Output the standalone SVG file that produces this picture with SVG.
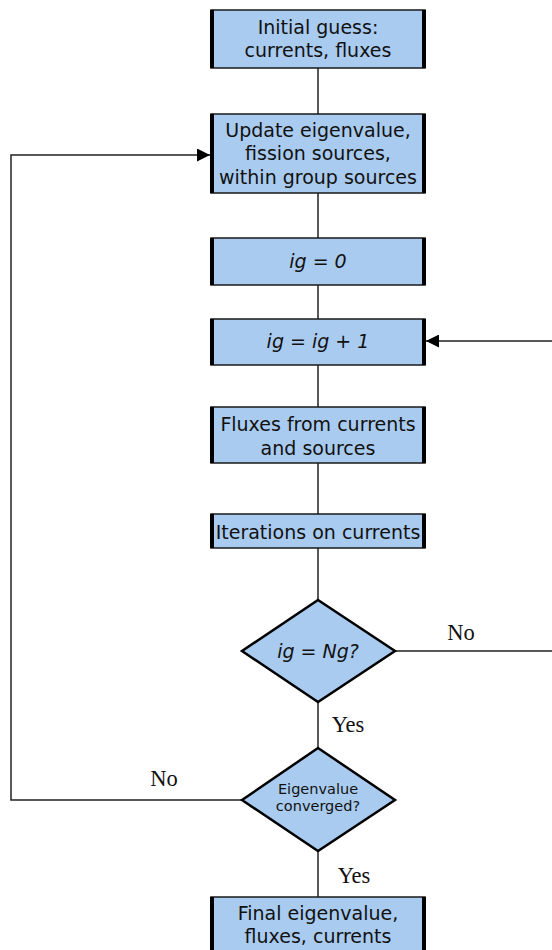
<svg xmlns="http://www.w3.org/2000/svg" width="552" height="950" viewBox="0 0 552 950">
<style>
.box{fill:#a9cbef;stroke:#1a1a1a;stroke-width:1.5}
.side{stroke:#000;stroke-width:4}
.dia{fill:#a9cbef;stroke:#000;stroke-width:2.5}
.t{font-family:"DejaVu Sans",sans-serif;font-size:19px;fill:#111;text-anchor:middle}
.i{font-style:italic}
.s{font-size:14.5px}
.lbl{font-family:"Liberation Serif",serif;font-size:22.5px;fill:#111;text-anchor:middle}
.c{fill:none;stroke:#222;stroke-width:1.5}
</style>
<defs>
<marker id="ah" viewBox="0 0 10 10" refX="10" refY="5" markerWidth="16" markerHeight="13" markerUnits="userSpaceOnUse" orient="auto"><path d="M0,0 L10,5 L0,10 Z" fill="#000"/></marker>
</defs>
<g id="connectors">
<line class="c" x1="318" y1="68" x2="318" y2="114"/>
<line class="c" x1="318" y1="193" x2="318" y2="238"/>
<line class="c" x1="318" y1="285" x2="318" y2="319"/>
<line class="c" x1="318" y1="365" x2="318" y2="407"/>
<line class="c" x1="318" y1="463" x2="318" y2="514"/>
<line class="c" x1="318" y1="548" x2="318" y2="600"/>
<line class="c" x1="318" y1="702" x2="318" y2="748"/>
<line class="c" x1="318" y1="851" x2="318" y2="897"/>
<path class="c" d="M242,800 H11 V155 H210" marker-end="url(#ah)"/>
<path class="c" d="M395,651 H554 V341 H426" marker-end="url(#ah)"/>
<text class="lbl" x="461" y="640">No</text>
<text class="lbl" x="348" y="732">Yes</text>
<text class="lbl" x="164" y="786">No</text>
<text class="lbl" x="354" y="883">Yes</text>
</g>
<g id="n1">
<rect class="box" x="211" y="10" width="214" height="58"/>
<line class="side" x1="212" y1="10" x2="212" y2="68"/><line class="side" x1="424" y1="10" x2="424" y2="68"/>
<text class="t" x="318" y="34">Initial guess:</text>
<text class="t" x="318" y="57">currents, fluxes</text>
</g>
<g id="n2">
<rect class="box" x="211" y="114" width="214" height="79"/>
<line class="side" x1="212" y1="114" x2="212" y2="193"/><line class="side" x1="424" y1="114" x2="424" y2="193"/>
<text class="t" x="318" y="137">Update eigenvalue,</text>
<text class="t" x="318" y="160">fission sources,</text>
<text class="t" x="318" y="184">within group sources</text>
</g>
<g id="n3">
<rect class="box" x="211" y="238" width="214" height="47"/>
<line class="side" x1="212" y1="238" x2="212" y2="285"/><line class="side" x1="424" y1="238" x2="424" y2="285"/>
<text class="t i" x="318" y="268">ig = 0</text>
</g>
<g id="n4">
<rect class="box" x="211" y="319" width="214" height="46"/>
<line class="side" x1="212" y1="319" x2="212" y2="365"/><line class="side" x1="424" y1="319" x2="424" y2="365"/>
<text class="t i" x="318" y="348">ig = ig + 1</text>
</g>
<g id="n5">
<rect class="box" x="211" y="407" width="214" height="56"/>
<line class="side" x1="212" y1="407" x2="212" y2="463"/><line class="side" x1="424" y1="407" x2="424" y2="463"/>
<text class="t" x="318" y="431">Fluxes from currents</text>
<text class="t" x="318" y="455">and sources</text>
</g>
<g id="n6">
<rect class="box" x="211" y="514" width="214" height="34"/>
<line class="side" x1="212" y1="514" x2="212" y2="548"/><line class="side" x1="424" y1="514" x2="424" y2="548"/>
<text class="t" x="318" y="539">Iterations on currents</text>
</g>
<g id="d1">
<polygon class="dia" points="318,600 395,651 318,702 242,651"/>
<text class="t i" x="318" y="658">ig = Ng?</text>
</g>
<g id="d2">
<polygon class="dia" points="318,748 395,800 318,851 242,800"/>
<text class="t s" x="318" y="794">Eigenvalue</text>
<text class="t s" x="318" y="811">converged?</text>
</g>
<g id="n7">
<rect class="box" x="211" y="897" width="214" height="60"/>
<line class="side" x1="212" y1="897" x2="212" y2="957"/><line class="side" x1="424" y1="897" x2="424" y2="957"/>
<text class="t" x="318" y="920">Final eigenvalue,</text>
<text class="t" x="318" y="943">fluxes, currents</text>
</g>
</svg>
